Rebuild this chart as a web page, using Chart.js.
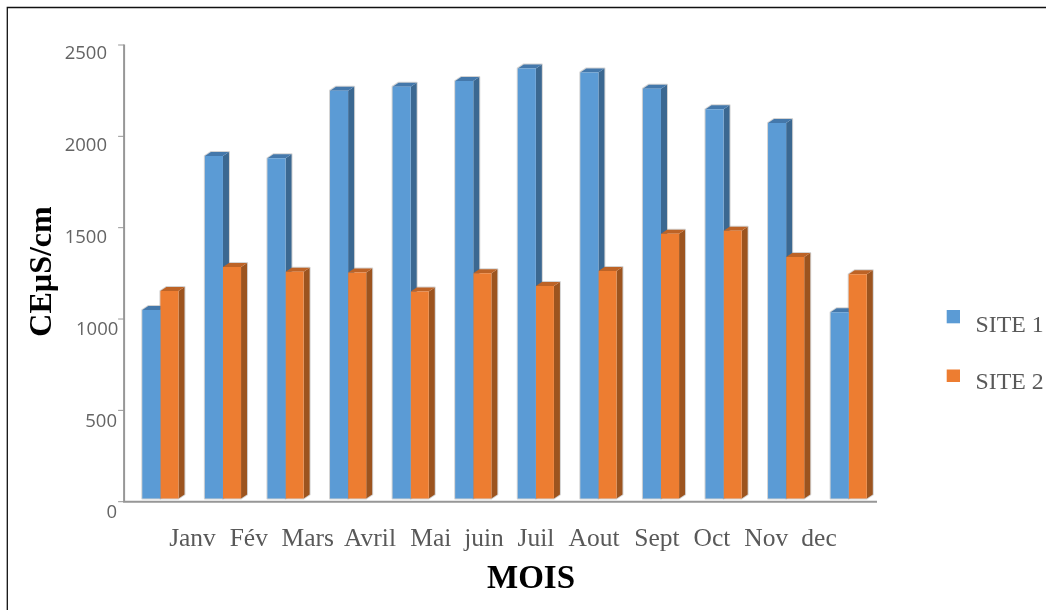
<!DOCTYPE html>
<html>
<head>
<meta charset="utf-8">
<style>html,body{margin:0;padding:0;background:#fff}canvas{display:block}</style>
<script src="https://cdn.jsdelivr.net/npm/chart.js@4"></script>
</head>
<body>
<canvas id="c" width="1046" height="610"></canvas>
<script>
const categories = ['Janv','Fév','Mars','Avril','Mai','juin','Juil','Aout','Sept','Oct','Nov','dec'];
const site1 = [1049,1892,1880,2250,2272,2303,2372,2350,2261,2148,2073,1037];
const site2 = [1153,1285,1259,1254,1150,1250,1181,1263,1467,1483,1339,1245];
const seriesNames = ['SITE 1','SITE 2'];
const yTicks = [0,500,1000,1500,2000,2500];
const xTitle = 'MOIS';
const yTitle = 'CEµS/cm';

const SERIF = '"Liberation Serif","Times New Roman",serif';
const SANS = '"Open Sans","Noto Sans",sans-serif';
const TXT = '#595959';
const AXIS = '#979797';
const FRONT = ['#5B9BD5','#ED7D31'];
const SIDE = ['#3B6891','#9C541F'];
const TOP = ['#4478AB','#BD6326'];
const DX = 6, DY = 4;
const xLabelCentres = [192.5,248.8,307.8,370,430.8,484,536,594,657,712,766.3,819];
const yLabelRights = [117,117,118.3,107,107,107];
const yLabelCentres = [512.7,421.7,329.5,238,146,53.7];

const layoutLabels = {
  id:'layoutLabels',
  beforeDraw(chart){
    const xs = chart.scales.x, ys = chart.scales.y;
    xs.getLabelItems(chart.chartArea).forEach((it,i)=>{
      it.options.translation = [xLabelCentres[i],546];
      it.options.textAlign = 'center';
      it.options.textBaseline = 'alphabetic';
      it.textOffset = 0;
    });
    ys.getLabelItems(chart.chartArea).forEach((it,i)=>{
      it.options.translation = [yLabelRights[i], yLabelCentres[i]];
      it.options.textAlign = 'right';
    });
  }
};

const depth3d = {
  id:'depth3d',
  beforeDatasetsDraw(chart){
    const c = chart.ctx;
    const poly = (pts,fill,stroke)=>{
      c.beginPath();
      pts.forEach((p,i)=> i? c.lineTo(p[0],p[1]) : c.moveTo(p[0],p[1]));
      c.closePath();
      if(stroke){c.strokeStyle=stroke;c.lineWidth=2;c.stroke();}
      if(fill){c.fillStyle=fill;c.fill();}
    };
    c.save();
    c.lineJoin='round';
    [0,1].forEach(d=>{
      chart.getDatasetMeta(d).data.forEach(el=>{
        const l=el.x-el.width/2,r=el.x+el.width/2,t=el.y,b=el.base;
        poly([[l,b],[l,t],[l+DX,t-DY],[r+DX,t-DY],[r+DX,b-DY],[r,b]],null,'rgba(175,175,175,0.55)');
      });
    });
    [0,1].forEach(d=>{
      chart.getDatasetMeta(d).data.forEach(el=>{
        const l=el.x-el.width/2,r=el.x+el.width/2,t=el.y,b=el.base;
        poly([[r,t],[r+DX,t-DY],[r+DX,b-DY],[r,b]],SIDE[d]);
        poly([[l,t],[l+DX,t-DY],[r+DX,t-DY],[r,t]],TOP[d]);
      });
    });
    c.restore();
  },
  afterDraw(chart){
    const c = chart.ctx, ys = chart.scales.y, xs = chart.scales.x;
    const axisX = chart.chartArea.left-5;
    const y0 = ys.getPixelForValue(0);
    c.save();
    c.strokeStyle='#111'; c.lineWidth=1.3;
    c.beginPath(); c.moveTo(7.3,610); c.lineTo(7.3,7.5); c.lineTo(1046,7.5); c.stroke();
    c.strokeStyle=AXIS; c.lineWidth=2;
    c.beginPath();
    c.moveTo(axisX,ys.getPixelForValue(yTicks[yTicks.length-1])-0.5);
    c.lineTo(axisX,y0+1);
    c.moveTo(axisX-1,y0); c.lineTo(xs.right-3,y0);
    c.stroke();
    c.lineWidth=1;
    c.beginPath();
    yTicks.forEach(v=>{const p=ys.getPixelForValue(v);c.moveTo(axisX-6,p);c.lineTo(axisX,p);});
    c.stroke();
    c.fillStyle='#000';
    c.font='bold 33px '+SERIF;
    c.textAlign='center'; c.textBaseline='alphabetic';
    c.fillText(xTitle,531,588);
    c.save();
    c.translate(50.7,271.5); c.rotate(-Math.PI/2);
    c.font='bold 32px '+SERIF;
    c.fillText(yTitle,0,0);
    c.restore();
    const rows=[[310,332.3],[369.5,389]];
    c.font='23.8px '+SERIF; c.textAlign='left';
    chart.data.datasets.forEach((ds,i)=>{
      c.fillStyle=ds.backgroundColor;
      c.fillRect(946.7,rows[i][0],13.3,i?12.5:13.3);
      c.fillStyle=TXT;
      c.fillText(ds.label,975.5,rows[i][1]);
    });
    c.restore();
  }
};

new Chart(document.getElementById('c'),{
  type:'bar',
  data:{
    labels:categories,
    datasets:[
      {label:seriesNames[0],data:site1,backgroundColor:FRONT[0],base:17.5},
      {label:seriesNames[1],data:site2,backgroundColor:FRONT[1],base:17.5}
    ]
  },
  options:{
    responsive:false,
    animation:false,
    devicePixelRatio:1,
    layout:{autoPadding:false,padding:{top:45,right:166,left:0,bottom:0}},
    categoryPercentage:0.578,
    barPercentage:1,
    plugins:{legend:{display:false},title:{display:false},tooltip:{enabled:false}},
    scales:{
      x:{
        type:'category',
        grid:{display:false},
        border:{display:false},
        ticks:{autoSkip:false,maxRotation:0,minRotation:0,color:TXT,font:{family:SERIF,size:25.5}},
        afterFit(s){s.height=108.3;}
      },
      y:{
        type:'linear',min:0,max:2500,
        grid:{display:false},
        border:{display:false},
        afterBuildTicks(s){s.ticks=yTicks.map(v=>({value:v}));},
        ticks:{color:'#646464',callback:v=>String(v),font:{family:SANS,size:18.5}},
        afterFit(s){s.width=129.1;}
      }
    }
  },
  plugins:[layoutLabels,depth3d]
});
</script>
</body>
</html>
